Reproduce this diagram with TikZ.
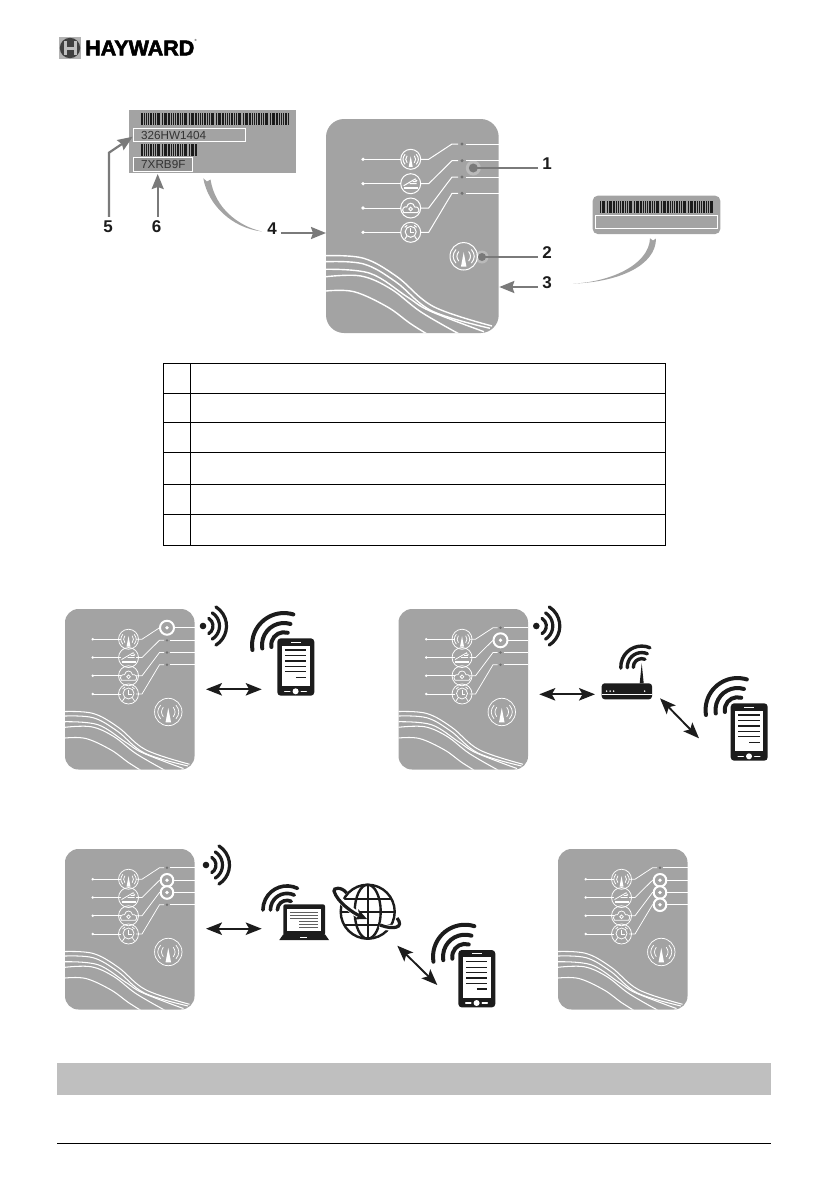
\documentclass[tikz,border=0pt]{standalone}
\usepackage{fontspec}
\setmainfont{Liberation Sans}
\newfontfamily\logofont[UprightFont={* Bold},FakeBold=2.6]{Liberation Sans}
\usepackage{xcolor}
\usepackage{tikz}
\usetikzlibrary{arrows.meta}

\definecolor{panelgrey}{HTML}{A3A3A3}
\definecolor{calloutgrey}{HTML}{7A7A7A}
\definecolor{inkblack}{HTML}{1C1C1C}

\newcommand{\barcodebars}[4]{% left, top, bar count, height
  \foreach \i in {1,...,#3} {
    \pgfmathsetmacro{\barw}{0.7+0.55*mod(\i*7,3)}
    \fill[inkblack] ({#1+2.25*\i},#2) rectangle ++(\barw,#4);
  }
}

\tikzset{
  numlabel/.style={font=\fontsize{17}{18}\selectfont\bfseries, text=inkblack, inner sep=4pt},
  labeltext/.style={font=\fontsize{11.7}{13}\selectfont, text=black!80, anchor=west, inner sep=0pt},
  callout/.style={calloutgrey, line width=2.2pt},
  calltip/.style={calloutgrey, line width=2.2pt, -{Stealth[length=15pt,width=12pt,inset=2pt]}},
  linkarrow/.style={inkblack, line width=1.9pt, {Stealth[length=16pt,width=12.5pt,inset=3.5pt]}-{Stealth[length=16pt,width=12.5pt,inset=3.5pt]}},
  ledring/.style={draw=white, fill=panelgrey, line width=2pt},
  wifiline/.style={inkblack, line cap=round},
  % wifi arcs, y points up in here, argument is the line width
  pics/wifi/.style={code={
    \begin{scope}[y=1pt]
      \foreach \r in {9,15.5,22.5}
        \draw[wifiline, line width=#1] (-58:\r) arc[start angle=-58, end angle=58, radius=\r];
    \end{scope}
  }},
  pics/iconsignal/.style={code={
    \draw (0,0) circle[radius=10];
    \fill (0,-3) -- (2,7.5) -- (-2,7.5) -- cycle;
    \draw (-3.6,-3.5) .. controls (-5.4,-1) and (-5.4,1) .. (-3.6,3.5);
    \draw (3.6,-3.5) .. controls (5.4,-1) and (5.4,1) .. (3.6,3.5);
    \draw (-5.6,-5) .. controls (-8.4,-1.5) and (-8.4,1.5) .. (-5.6,5);
    \draw (5.6,-5) .. controls (8.4,-1.5) and (8.4,1.5) .. (5.6,5);
  }},
  pics/icondish/.style={code={
    \draw (0,0) circle[radius=10];
    \fill (-7,3.5) rectangle (7,5.5);
    \draw (-7,2) -- (5,-5);
    \draw (-1,0) -- (6,0) (2,-2) -- (6,-2) (4,-4) -- (6.5,-3);
  }},
  pics/iconcloud/.style={code={
    \draw (0,0) circle[radius=10];
    \draw (-7,4.5) .. controls (-10,1) and (-6,-2) .. (-4,-1) .. controls (-3,-6) and (3,-6) .. (4,-1)
      .. controls (7,-2) and (10,2) .. (7,4.5) -- cycle;
    \draw (0,1) circle[radius=1.8];
  }},
  pics/iconclock/.style={code={
    \draw (0,0) circle[radius=10];
    \draw (0,-0.5) circle[radius=5.5];
    \draw (0,-4) -- (0,0) -- (3,0);
    \draw (-4,4) -- (-6,7) (4,4) -- (6,7);
    \draw (-6,-5) -- (-3.5,-7) (6,-5) -- (3.5,-7);
  }},
  % the controller front, argument is its scale
  pics/controller/.style={code={
    \fill[panelgrey, rounded corners=#1*18pt] (0,0) rectangle (172.7,214);
    \begin{scope}[color=white, line width=#1*1pt]
      \foreach \row/\y/\ty in {1/40.3/25, 2/64.7/41.7, 3/89/58, 4/113.3/74.3} {
        \fill (37,\y) circle[radius=1.8];
        \draw (37,\y) -- (74.7,\y);
        \draw (94.7,\y) -- (102.7,\y) -- (126,\ty) -- (132,\ty);
        \coordinate (-led\row) at (136,\ty);
        \fill[black!55] (-led\row) circle[radius=1.7];
        \draw (140,\ty) -- (172.7,\ty);
      }
      \pic at (84.7,40.3) {iconsignal};
      \pic at (84.7,64.7) {icondish};
      \pic at (84.7,89) {iconcloud};
      \pic at (84.7,113.3) {iconclock};
      \pic[scale=1.37] at (137.7,137.3) {iconsignal};
      % waves along the bottom
      \begin{scope}[line width=#1*1.4pt]
        \clip[rounded corners=#1*18pt] (0,0) rectangle (172.7,214);
        \draw plot[smooth, tension=.6] coordinates {(0,136.7) (37.7,139.3) (71,157.7) (107.7,187.7) (166,207)};
        \draw plot[smooth, tension=.6] coordinates {(0,142.7) (37.7,145) (70,163) (106,192) (164,209.3)};
        \draw plot[smooth, tension=.6] coordinates {(0,150.3) (44,154.3) (81,177.7) (104,192) (158,212.7)};
        \draw plot[smooth, tension=.6] coordinates {(0,157.7) (35,157) (65,170) (95,193) (135,216)};
        \draw plot[smooth, tension=.6] coordinates {(0,172) (28,172.7) (61,187.7) (84,204.3) (101,215)};
      \end{scope}
    \end{scope}
  }},
  pics/phone/.style={code={
    \fill[inkblack, rounded corners=3.5pt] (0,0) rectangle (37,57.4);
    \fill[white] (4.3,7.3) rectangle (32.7,47.7);
    \draw[white, line width=1pt] (13.5,3.8) -- (23.5,3.8);
    \foreach \y in {11.7,17.3,22.7,28,33.3}
      \draw[inkblack, line width=1.3pt] (7.5,\y) -- (29,\y);
    \draw[inkblack, line width=1.3pt] (18.5,39) -- (29,39);
    \fill[white] (18.3,53) circle[radius=3];
    \draw[white, line width=1.6pt, line cap=round] (7.5,53) -- (12.5,53) (24,53) -- (29,53);
  }},
  pics/router/.style={code={
    \fill[inkblack, rounded corners=3pt] (0,0) rectangle (50.3,16);
    \fill[white] (0,10.5) rectangle (50.3,11.3);
    \foreach \x in {5,8.5,12,43}
      \fill[white] (\x,7.8) circle[radius=.9];
    \fill[inkblack] (38,0) -- (40,-20) -- (42,0) -- cycle;
  }},
  pics/laptop/.style={code={
    \fill[inkblack, rounded corners=2pt] (4,0) rectangle (45.7,31);
    \fill[white] (8,5) rectangle (41.7,26.5);
    \foreach \y in {8,11,14}
      \draw[inkblack!70, line width=.9pt] (10.5,\y) -- (39,\y);
    \foreach \y in {17,20,23}
      \draw[inkblack!70, line width=.9pt] (20,\y) -- (39,\y);
    \fill[inkblack] (4,30) -- (45.7,30) -- (49.7,35.7) -- (0,35.7) -- cycle;
    \fill[white] (21,32.5) rectangle (28,34);
  }},
  pics/globe/.style={code={
    \begin{scope}[inkblack, line width=2.4pt]
      \draw (0,0) circle[radius=27];
      \draw (0,0) ellipse[x radius=13, y radius=27];
      \draw (0,-27) -- (0,27) (-27,0) -- (27,0);
      \draw (-23,-13) -- (23,-13) (-23,13) -- (23,13);
    \end{scope}
  }},
}

\begin{document}
\begin{tikzpicture}[x=1pt, y=-1pt]
    \useasboundingbox (0,0) rectangle (839,1191);

    % Logo
    \fill[black!30] (59,37) rectangle (81,59);
    \fill[black!75] (70,48) circle[radius=10.2];
    \draw[black!25, line width=3pt] (65,41) -- (65,55) (75,41) -- (75,55) (65,48) -- (75,48);
    \node[font=\fontsize{21.5}{23}\selectfont\logofont, text=black, anchor=west, inner sep=0pt] (logo) at (85,48) {HAYWARD};
    \node[font=\fontsize{3}{4}\selectfont, anchor=west, inner sep=0pt] (regmark) at (logo.north east) {®};

    % Big controller
    \pic (mainpanel) at (326,119) {controller=1};
    \coordinate (dot1) at (473.3,168);
    \coordinate (dot2) at (482,257);
    \fill[white, opacity=.25] (dot1) circle[radius=7.5];
    \fill[calloutgrey] (dot1) circle[radius=4.5];
    \fill[white, opacity=.25] (dot2) circle[radius=6.5];
    \fill[calloutgrey] (dot2) circle[radius=4];

    % Left sticker
    \fill[panelgrey] (129,110) rectangle (296,172.7);
    \barcodebars{139}{113.3}{66}{11.7}
    \barcodebars{139}{144.3}{25}{11.7}
    \draw[white, line width=1pt] (133.3,128.3) rectangle (245.7,141.7);
    \draw[white, line width=1pt, fill=black!42] (133.3,157.3) rectangle (192.7,171.7);
    \node[labeltext] (serial) at (141,135) {326HW1404};
    \node[labeltext] (code) at (141,164.5) {7XRB9F};
    \fill[panelgrey] (203.3,178.3) .. controls (208,205) and (232,228) .. (262,231.5)
      .. controls (238,226) and (215,208) .. (210.5,179.5) -- (207,181.5) -- cycle;

    % Right sticker
    \fill[panelgrey, rounded corners=5pt] (592.7,195.7) rectangle (720.3,234);
    \barcodebars{597.5}{200.7}{51}{12}
    \draw[white, line width=1pt] (595.7,215.3) rectangle (717.3,228.3);
    \fill[panelgrey] (650,238.3) .. controls (649,265) and (610,282) .. (573,283.6)
      .. controls (620,282) and (656,265) .. (656,238.5) -- (653,240.5) -- cycle;

    % Numbers and callouts
    \node[numlabel] (num1) at (547,164) {1};
    \node[numlabel] (num2) at (547,253) {2};
    \node[numlabel] (num3) at (547,283) {3};
    \node[numlabel] (num4) at (272,229) {4};
    \node[numlabel] (num5) at (108,227) {5};
    \node[numlabel] (num6) at (156.7,227) {6};
    \coordinate (tip3) at (499.3,287);
    \coordinate (tip4) at (326,233);
    \coordinate (bend5) at (109,152.7);
    \coordinate (tip5) at (132.7,136.7);
    \coordinate (tip6) at (157.7,174);
    \draw[callout] ([yshift=-4pt]num1.west) -- (dot1);
    \draw[callout] ([yshift=-4pt]num2.west) -- (dot2);
    \draw[calltip] ([yshift=-4pt]num3.west) -- (tip3);
    \draw[calltip] ([yshift=-4pt]num4.east) -- (tip4);
    \draw[calltip] (num5.north -| bend5) -- (bend5) -- (tip5);
    \draw[calltip] (num6.north -| tip6) -- (tip6);

    % Table
    \draw[black, line width=.9pt] (163,363) rectangle (665,545);
    \draw[black, line width=.9pt] (190,363) -- (190,545);
    \foreach \y in {393,422,452,484,514}
      \draw[black, line width=.9pt] (163,\y) -- (665,\y);

    % Four small controllers
    \pic[scale=.75] (panela) at (65,609) {controller=.75};
    \pic[scale=.75] (panelb) at (398.5,609) {controller=.75};
    \pic[scale=.75] (panelc) at (65,849) {controller=.75};
    \pic[scale=.75] (paneld) at (558,849) {controller=.75};

    % Lit leds
    \foreach \led/\rr in {panela-led1/7, panelb-led2/7, panelc-led2/6.3, panelc-led3/6.3, paneld-led2/6.3, paneld-led3/6.3, paneld-led4/6.3} {
      \draw[ledring] (\led) circle[radius=\rr];
      \fill[white] (\led) circle[radius=1.8];
    }

    % Top left: phone
    \fill[inkblack] (203,626) circle[radius=3.3];
    \pic at (204,626) {wifi=3.2pt};
    \pic at (277.3,638.3) {phone};
    \pic[rotate=131, scale=1.42] at (284,645) {wifi=4pt};
    \coordinate (linka) at (206,689.3);
    \coordinate (linkb) at (261.7,689.3);
    \draw[linkarrow] (linka) -- (linkb);

    % Top right: router and phone
    \fill[inkblack] (536.3,626) circle[radius=3.3];
    \pic at (537.3,626) {wifi=3.2pt};
    \pic at (601.7,683.3) {router};
    \pic[rotate=125, scale=.93] at (641.7,667) {wifi=3.4pt};
    \pic at (730.7,703.3) {phone};
    \pic[rotate=131, scale=1.42] at (737.5,710) {wifi=4pt};
    \coordinate (linkc) at (539.3,694.3);
    \coordinate (linkd) at (595,694.3);
    \coordinate (linke) at (660,698.3);
    \coordinate (linkf) at (699,738.3);
    \draw[linkarrow] (linkc) -- (linkd);
    \draw[linkarrow] (linke) -- (linkf);

    % Bottom left: laptop, globe and phone
    \fill[inkblack] (206,865) circle[radius=3.3];
    \pic at (207,865) {wifi=3.2pt};
    \pic at (279.3,904.3) {laptop};
    \pic[rotate=122, scale=1.07] at (287,910) {wifi=3.6pt};
    \pic at (367.7,911.7) {globe};
    \draw[white, line width=6pt] (336,893) .. controls (340,902) and (353,913) .. (365,918.3);
    \draw[inkblack, line width=3.2pt, -{Stealth[length=12pt,width=11pt]}]
      (346.7,893) .. controls (341,886) and (333,888) .. (334,891) .. controls (337,902) and (353,913) .. (367,919);
    \draw[white, line width=6pt] (380,925) .. controls (390,929) and (398,929) .. (400,925);
    \draw[inkblack, line width=3.2pt] (380,925) .. controls (393,930) and (405,928) .. (397,918);
    \pic at (458.3,950) {phone};
    \pic[rotate=131, scale=1.42] at (465,956.7) {wifi=4pt};
    \coordinate (linkg) at (206,928.7);
    \coordinate (linkh) at (261.7,928.7);
    \coordinate (linki) at (397.3,945.7);
    \coordinate (linkj) at (437.3,985);
    \draw[linkarrow] (linkg) -- (linkh);
    \draw[linkarrow] (linki) -- (linkj);

    % Grey bar and footer rule
    \fill[black!25] (57,1063) rectangle (771,1095);
    \draw[black, line width=.9pt] (57,1143) -- (771,1143);

\end{tikzpicture}
\end{document}
